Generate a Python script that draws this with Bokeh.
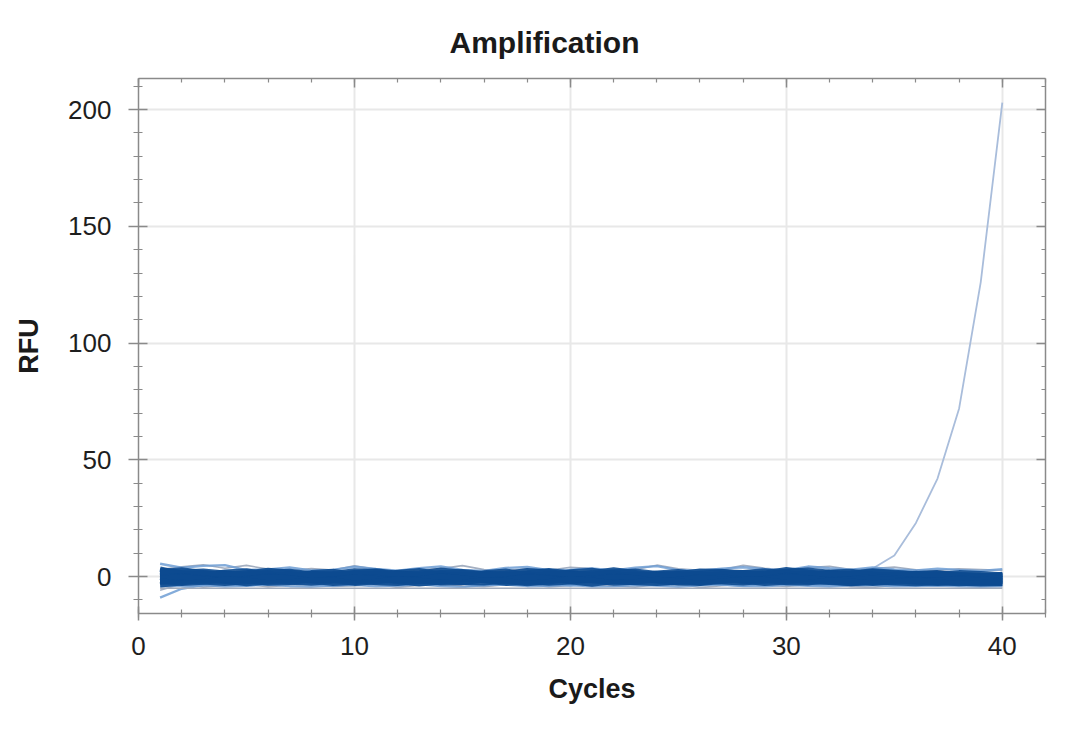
from bokeh.plotting import figure
from bokeh.models import Range1d, LinearAxis, SingleIntervalTicker, Grid
from bokeh.embed import file_html
from bokeh.resources import INLINE

# ---------------- data ----------------
cycles = list(range(1, 41))

dark_wells = [
    [1.8, 0.9, 1.5, 0.6, -0.4, 0.8, 1.2, 0.3, -0.5, 0.7, 1.4, 0.2, -0.3, 0.9, 1.1, 0.4, -0.2, 0.6, 1.3, 0.5,
     -0.1, 0.8, 1.0, 0.2, -0.6, 0.4, 1.2, 0.7, 0.1, 0.9, 1.5, 0.6, 0.3, 0.8, 0.2, -0.3, 0.5, 0.1, -0.4, -0.2],
    [-1.2, -0.5, -1.6, -0.8, 0.2, -0.9, -1.4, -0.3, 0.4, -1.0, -1.5, -0.6, 0.1, -0.7, -1.3, -0.2, 0.3, -0.9, -1.6, -0.4,
     0.2, -1.1, -1.4, -0.5, 0.3, -0.8, -1.2, -0.3, 0.5, -0.6, -1.1, -0.4, -0.9, -1.5, -0.7, -1.2, -1.8, -1.0, -1.6, -2.0],
    [2.6, 1.9, 2.3, 1.4, 1.0, 1.8, 2.2, 1.1, 0.7, 1.6, 2.4, 1.3, 0.9, 1.7, 2.1, 1.2, 0.8, 1.5, 2.5, 1.4,
     1.0, 1.9, 2.3, 1.2, 0.6, 1.3, 2.0, 1.6, 1.1, 2.2, 2.7, 1.8, 1.3, 2.1, 1.5, 1.0, 1.4, 0.9, 0.5, 0.3],
    [-2.4, -1.8, -2.2, -2.9, -2.1, -1.5, -2.3, -2.7, -1.9, -1.6, -2.5, -2.8, -2.0, -1.7, -2.4, -2.6, -1.8, -2.1, -2.7, -2.2,
     -1.6, -2.0, -2.5, -2.9, -2.3, -1.7, -2.2, -2.6, -1.9, -1.5, -2.1, -2.4, -2.8, -2.2, -2.6, -3.0, -2.5, -2.7, -3.1, -2.8],
    [0.4, 1.6, 0.2, -0.7, 0.9, 1.5, -0.1, -0.8, 0.6, 1.7, 0.3, -0.5, 0.8, 1.4, -0.2, -0.9, 0.5, 1.3, 0.1, -0.6,
     0.7, 1.6, 0.0, -0.7, 0.4, 1.2, -0.3, -0.9, 0.6, 1.8, 0.2, -0.4, 0.9, 1.1, -0.2, -0.8, 0.3, 0.6, -0.5, -0.9],
    [-0.3, -1.5, -0.6, 0.7, -0.2, -1.3, -0.8, 0.5, -0.4, -1.6, -0.7, 0.3, -0.1, -1.2, -0.9, 0.6, -0.3, -1.4, -0.5, 0.4,
     -0.6, -1.7, -0.2, 0.8, -0.5, -1.1, -0.7, 0.2, 0.1, -1.0, -0.4, 0.6, -0.3, -1.3, -1.0, -0.1, -0.8, -1.5, -1.2, -1.7],
    [3.2, 1.2, 0.5, 1.9, 2.4, 0.9, 0.3, 1.6, 2.2, 0.8, 0.4, 1.8, 2.5, 1.0, 0.2, 1.5, 2.3, 0.7, 0.6, 2.0,
     2.6, 1.1, 0.3, 1.4, 2.1, 0.9, 0.5, 1.7, 2.4, 1.3, 0.6, 1.9, 2.2, 0.8, 0.4, 1.2, 1.6, 0.5, 0.1, 0.9],
    [-3.5, -2.6, -1.3, -1.9, -3.0, -2.2, -1.1, -1.8, -2.9, -2.4, -1.2, -2.0, -3.1, -2.3, -1.0, -1.7, -2.8, -2.5, -1.4, -2.1,
     -3.2, -2.0, -1.3, -1.9, -2.7, -2.6, -1.5, -1.8, -2.9, -2.2, -1.2, -2.1, -3.0, -2.4, -1.6, -2.3, -2.8, -2.0, -2.5, -2.9],
    [0.9, 0.2, 0.8, 1.5, 0.6, -0.3, 0.4, 1.2, 1.0, 0.1, 0.6, 1.6, 0.7, -0.2, 0.5, 1.3, 0.9, 0.0, 0.8, 1.7,
     0.5, -0.4, 0.3, 1.1, 1.2, 0.2, 0.7, 1.5, 0.8, -0.1, 0.6, 1.4, 1.0, 0.4, 0.9, 1.3, 0.2, -0.3, 0.1, 0.4],
    [-0.8, -0.1, -1.0, -1.9, -1.1, -0.2, -0.7, -1.6, -1.3, -0.4, -0.9, -1.8, -1.0, 0.0, -0.6, -1.5, -1.4, -0.3, -0.8, -1.7,
     -1.2, -0.1, -0.5, -1.4, -1.5, -0.6, -1.0, -1.9, -1.1, -0.2, -0.7, -1.6, -1.2, -0.8, -1.3, -1.8, -1.5, -1.1, -1.7, -1.9],
    [2.0, 2.8, 1.7, 0.9, 1.5, 2.6, 1.9, 0.8, 1.2, 2.4, 2.1, 1.0, 1.4, 2.7, 1.8, 0.7, 1.3, 2.5, 2.0, 0.9,
     1.6, 2.8, 1.7, 0.6, 1.1, 2.3, 2.2, 1.2, 1.5, 2.9, 1.9, 1.0, 1.4, 2.4, 1.8, 1.1, 0.8, 1.6, 1.2, 0.7],
    [-1.9, -2.9, -2.3, -1.2, -1.6, -2.7, -2.4, -1.3, -1.5, -2.8, -2.1, -1.1, -1.7, -2.6, -2.5, -1.4, -1.8, -3.0, -2.2, -1.0,
     -1.6, -2.7, -2.3, -1.2, -1.9, -2.9, -2.0, -1.3, -1.4, -2.5, -2.6, -1.5, -2.0, -2.8, -2.2, -1.7, -2.4, -3.0, -2.6, -2.2],
]

light_wells = [
    [5.5, 3.8, 4.6, 4.9, 2.8, 3.1, 3.9, 2.6, 2.9, 4.2, 3.3, 2.5, 3.6, 4.4, 2.9, 2.4, 3.7, 4.1, 2.7, 3.0,
     3.5, 2.6, 3.8, 4.5, 2.8, 2.5, 3.4, 4.0, 3.2, 2.7, 4.3, 3.6, 3.0, 3.9, 3.1, 2.6, 3.4, 2.8, 2.4, 3.2],
    [-4.2, -4.0, -3.6, -4.3, -3.9, -3.4, -4.1, -4.4, -3.7, -3.5, -4.2, -3.8, -3.3, -4.0, -4.5, -3.6, -3.4, -4.1, -3.9, -3.5,
     -4.3, -4.2, -3.6, -3.8, -4.4, -3.7, -3.3, -4.0, -4.2, -3.5, -3.9, -4.3, -3.7, -3.6, -4.1, -4.0, -3.8, -4.2, -4.4, -4.1],
    [-9.0, -5.2, -3.6, -3.1, -3.8, -3.0, -2.6, -3.4, -3.9, -3.2, -2.8, -3.6, -3.3, -2.7, -3.1, -3.7, -3.0, -2.5, -3.2, -3.8,
     -3.4, -2.9, -3.1, -3.6, -3.0, -2.6, -3.5, -3.9, -3.1, -2.8, -3.3, -3.7, -3.2, -2.9, -3.4, -3.8, -3.3, -3.0, -3.5, -3.6],
]

gray_wells = [
    [3.0, 4.2, 5.1, 3.6, 4.8, 3.2, 2.5, 3.4, 2.8, 4.6, 3.1, 2.4, 2.9, 3.5, 4.7, 3.0, 2.6, 3.3, 2.7, 4.0,
     3.4, 2.5, 3.1, 4.9, 3.3, 2.7, 2.9, 4.8, 3.6, 2.8, 3.9, 4.4, 3.0, 3.5, 4.1, 2.9, 2.6, 3.3, 3.0, 2.7],
    [-5.8, -3.2, -4.5, -3.8, -3.1, -4.4, -3.6, -3.0, -4.2, -3.9, -3.3, -4.6, -3.7, -3.1, -4.0, -4.3, -3.5, -3.2, -4.4, -3.8,
     -3.0, -4.1, -4.5, -3.4, -3.2, -4.7, -3.9, -3.1, -3.6, -4.2, -3.4, -3.0, -4.3, -4.6, -3.7, -3.5, -4.0, -3.3, -3.8, -4.2],
]

positive_well = [0.5, 0.8, 1.4, 0.9, 0.3, 0.7, 1.1, 0.4, -0.2, 0.6, 1.0, 0.5, 0.1, 0.8, 1.2, 0.6, 0.2, 0.9, 1.3, 0.7,
                 0.3, 1.0, 0.8, 0.2, 0.5, 1.1, 0.9, 0.4, 0.6, 1.2, 0.8, 0.5, 1.0, 3.5, 9.0, 23.0, 42.0, 72.0, 126.0, 203.0]

flat_level = -5.0

x_ticks_interval = 10
y_ticks_interval = 50

# ---------------- figure ----------------
FONT = "Liberation Sans"
AXIS_COLOR = "#8a8a8a"

p = figure(width=1070, height=721, output_backend="svg", toolbar_location=None,
           x_range=Range1d(0, 42), y_range=Range1d(-15.8, 213.3),
           min_border_left=138, min_border_right=25, min_border_top=78, min_border_bottom=108,
           background_fill_color="white", border_fill_color="white")
p.outline_line_color = None

p.title.text = "Amplification"
p.title.text_font = FONT
p.title.text_font_size = "30px"
p.title.text_font_style = "bold"
p.title.text_color = "#1a1a1a"
p.title.align = "left"
p.title.offset = 311
p.title.standoff = 40

p.xaxis.visible = False
p.yaxis.visible = False

def style_axis(ax, tin, tout, mtin, mtout, labels=True):
    ax.axis_line_color = AXIS_COLOR
    ax.axis_line_width = 1.5
    ax.major_tick_line_color = AXIS_COLOR
    ax.minor_tick_line_color = AXIS_COLOR
    ax.major_tick_line_width = 1.5
    ax.minor_tick_line_width = 1.2
    ax.major_tick_in = tin
    ax.major_tick_out = tout
    ax.minor_tick_in = mtin
    ax.minor_tick_out = mtout
    ax.major_label_text_font = FONT
    if labels:
        ax.major_label_text_font_size = "26px"
        ax.major_label_text_color = "#1e1e1e"
    else:
        ax.major_label_text_font_size = "1px"
        ax.major_label_text_color = None
    ax.axis_label_text_font = FONT
    ax.axis_label_text_font_size = "27px"
    ax.axis_label_text_font_style = "bold"
    ax.axis_label_text_color = "#1a1a1a"

xt = SingleIntervalTicker(interval=x_ticks_interval, num_minor_ticks=5)
yt = SingleIntervalTicker(interval=y_ticks_interval, num_minor_ticks=5)

bottom = LinearAxis(ticker=xt, axis_label="Cycles")
style_axis(bottom, 7, 7, 4, 4)
bottom.major_label_standoff = 16
bottom.axis_label_standoff = 16
p.add_layout(bottom, "below")

left = LinearAxis(ticker=yt, axis_label="RFU")
style_axis(left, 9, 10, 4, 5)
left.major_label_standoff = 17
left.axis_label_standoff = 21
p.add_layout(left, "left")

top = LinearAxis(ticker=SingleIntervalTicker(interval=x_ticks_interval, num_minor_ticks=5))
style_axis(top, 9, 0, 4, 0, labels=False)
top.major_label_standoff = 0
p.add_layout(top, "above")

right = LinearAxis(ticker=SingleIntervalTicker(interval=y_ticks_interval, num_minor_ticks=5))
style_axis(right, 9, 0, 4, 0, labels=False)
right.major_label_standoff = 0
p.add_layout(right, "right")

p.xgrid.visible = False
p.ygrid.visible = False
p.add_layout(Grid(dimension=0, ticker=xt, grid_line_color="#e8e8e8", grid_line_width=2))
p.add_layout(Grid(dimension=1, ticker=yt, grid_line_color="#e8e8e8", grid_line_width=2))

# positive well first so that its baseline part is hidden in the band
p.line(cycles, positive_well, line_color="#a9bddb", line_width=1.8)

for w in gray_wells:
    p.line(cycles, w, line_color="#9aa6ba", line_width=1.6, line_alpha=0.9)
for w in light_wells:
    p.line(cycles, w, line_color="#6f9dd3", line_width=2.4, line_alpha=0.85)

p.segment(x0=cycles[0], x1=cycles[-1], y0=flat_level, y1=flat_level,
          line_color="#a3acbb", line_width=1.6)

for w in dark_wells:
    p.line(cycles, w, line_color="#0c4a90", line_width=5.5, line_alpha=0.9)

open("out.html", "w").write(file_html(p, INLINE))
